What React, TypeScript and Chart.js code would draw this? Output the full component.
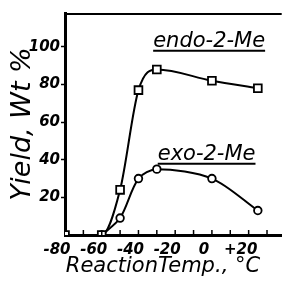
import { useEffect, useRef } from "react";
import { Chart, registerables } from "chart.js";

Chart.register(...registerables);

const endoTemps = [-80, -60, -50, -40, -30, 0, 25];
const endoYield = [0, 0, 24, 77, 88, 82, 78];
const exoTemps = [-60, -50, -40, -30, 0, 25];
const exoYield = [0, 9, 30, 35, 30, 13];
const yTickValues = [20, 40, 60, 80, 100];
const xLabelValues = [-80, -60, -40, -20, 0, 20];
const xMinorTicks = [-70, -60, -50, -40, -30, -20, -10, 0, 10, 20, 30];
const seriesNames = ["endo-2-Me", "exo-2-Me"];
const xTitle = "ReactionTemp., °C";
const yTitle = "Yield, Wt %";
const labelAnchors = [
  { x: -32, y: 100 },
  { x: -29.5, y: 40 },
];

const FONT = '"DejaVu Sans"';

const framePlugin = {
  id: "frame",
  afterDatasetsDraw(chart: any) {
    const { ctx, chartArea, scales } = chart;
    const xs = scales.x;
    const ys = scales.y;
    ctx.save();
    ctx.strokeStyle = "#000";
    ctx.lineWidth = 2;
    ctx.beginPath();
    ctx.moveTo(chartArea.left, chartArea.top + 1);
    ctx.lineTo(chartArea.right, chartArea.top + 1);
    ctx.stroke();
    ctx.lineWidth = 1.5;
    xMinorTicks.forEach((v) => {
      const px = xs.getPixelForValue(v);
      ctx.beginPath();
      ctx.moveTo(px, chartArea.bottom);
      ctx.lineTo(px, chartArea.bottom - 5);
      ctx.stroke();
    });
    ctx.fillStyle = "#000";
    ctx.font = `italic 21px ${FONT}`;
    ctx.textBaseline = "alphabetic";
    ctx.textAlign = "left";
    seriesNames.forEach((name, i) => {
      const a = labelAnchors[i];
      const px = xs.getPixelForValue(a.x);
      const py = ys.getPixelForValue(a.y);
      ctx.fillText(name, px, py);
      const w = ctx.measureText(name).width;
      ctx.lineWidth = 2;
      ctx.beginPath();
      ctx.moveTo(px, py + 4);
      ctx.lineTo(px + w, py + 4);
      ctx.stroke();
    });
    ctx.font = `italic 21px ${FONT}`;
    ctx.textAlign = "center";
    ctx.textBaseline = "middle";
    ctx.fillText(xTitle, chartArea.left + 98, chartArea.bottom + 32);
    ctx.restore();
  },
};

export default function App() {
  const ref = useRef<HTMLCanvasElement>(null);
  useEffect(() => {
    if (!ref.current) return;
    const chart = new Chart(ref.current, {
      type: "line",
      data: {
        datasets: [
          {
            label: seriesNames[0],
            data: endoTemps.map((t, i) => ({ x: t, y: endoYield[i] })),
            borderColor: "#000",
            borderWidth: 2,
            pointStyle: "rect",
            pointRadius: 5.5,
            pointBackgroundColor: "#fff",
            pointBorderColor: "#000",
            pointBorderWidth: 1.8,
            cubicInterpolationMode: "monotone",
            fill: false,
          },
          {
            label: seriesNames[1],
            data: exoTemps.map((t, i) => ({ x: t, y: exoYield[i] })),
            borderColor: "#000",
            borderWidth: 2,
            pointStyle: "circle",
            pointRadius: 3.8,
            pointBackgroundColor: "#fff",
            pointBorderColor: "#000",
            pointBorderWidth: 1.8,
            tension: 0.3,
            fill: false,
          },
        ],
      },
      options: {
        animation: false,
        responsive: false,
        layout: { padding: { top: 13, right: 0, left: 0, bottom: 0 } },
        plugins: { legend: { display: false }, tooltip: { enabled: false } },
        scales: {
          x: {
            type: "linear",
            min: -80,
            max: 38,
            afterBuildTicks: (s: any) => {
              s.ticks = xLabelValues.map((v) => ({ value: v }));
            },
            afterFit: (s: any) => {
              s.height = 48;
            },
            grid: { display: true, drawOnChartArea: false, drawTicks: false },
            border: { display: true, color: "#000", width: 3 },
            ticks: {
              color: "#000",
              padding: 6,
              labelOffset: -8,
              maxRotation: 0,
              autoSkip: false,
              font: { family: "DejaVu Sans", size: 15, style: "italic", weight: "bold" },
              callback: (v: any) => (v > 0 ? "+" + v : String(v)),
            },
            title: { display: false },
          },
          y: {
            min: 0,
            max: 118,
            afterBuildTicks: (s: any) => {
              s.ticks = yTickValues.map((v) => ({ value: v }));
            },
            afterFit: (s: any) => {
              s.width = 65;
            },
            grid: { display: true, drawOnChartArea: false, drawTicks: true, tickLength: 4, color: "#000", tickWidth: 1.5 },
            border: { display: true, color: "#000", width: 3 },
            ticks: {
              color: "#000",
              padding: 1,
              font: { family: "DejaVu Sans", size: 15, style: "italic", weight: "bold" },
            },
            title: {
              display: true,
              text: yTitle,
              color: "#000",
              font: { family: "DejaVu Sans", size: 27, style: "italic" },
              padding: { top: 7, bottom: 0 },
            },
          },
        },
      },
      plugins: [framePlugin],
    } as any);
    return () => chart.destroy();
  }, []);
  return (
    <div style={{ position: "absolute", left: 0, top: 0, width: 289, height: 283, background: "#fff" }}>
      <canvas ref={ref} width={289} height={283} />
    </div>
  );
}
